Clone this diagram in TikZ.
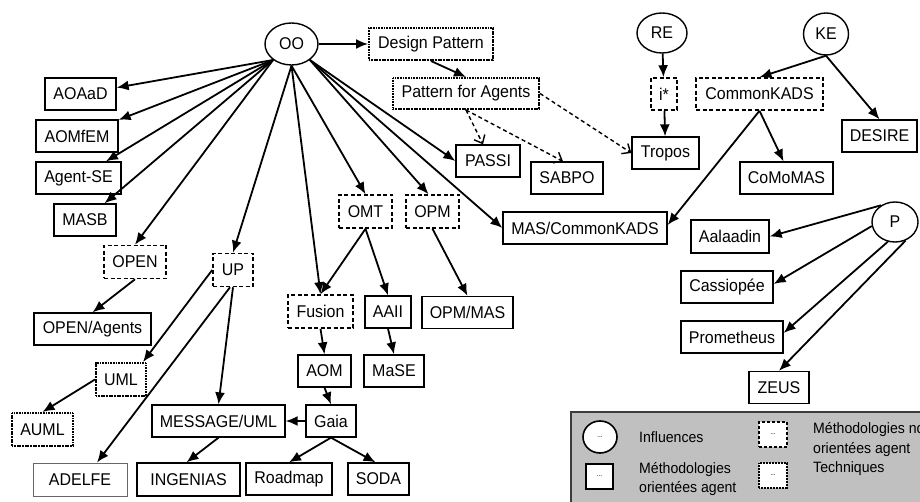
\documentclass[tikz,border=0pt]{standalone}
\usepackage{fontspec}
\setmainfont{Liberation Sans}[FakeStretch=0.94]
\usetikzlibrary{shapes.geometric,arrows.meta}
\definecolor{legendgray}{RGB}{192,192,192}
\definecolor{legendedge}{RGB}{60,60,60}

\tikzset{
  base/.style={font=\fontsize{17}{20}\selectfont, inner sep=0pt, minimum height=32pt, align=center},
  meth/.style={base, draw, rectangle, line width=1.3pt, fill=white},
  nonagent/.style={base, draw, rectangle, line width=1.6pt, dash pattern=on 4pt off 2.5pt, fill=white},
  techbox/.style={base, draw, rectangle, line width=2pt, dash pattern=on 1.1pt off 0.5pt, fill=white},
  infl/.style={base, draw, ellipse, line width=1.4pt, fill=white},
  arr/.style={line width=1.8pt, -{Latex[length=12pt,width=10pt]}},
  darr/.style={line width=1.4pt, dash pattern=on 4pt off 3pt, -{Straight Barb[length=7pt,width=12pt,line width=1.4pt]}},
  legtext/.style={font=\fontsize{15}{19.5}\selectfont, inner sep=0pt, anchor=west, align=left},
  legsym/.style={font=\fontsize{7}{8}\selectfont, inner sep=0pt, fill=white, draw},
}

\begin{document}
\begin{tikzpicture}[x=1pt, y=-1pt]
\fill[white] (0,0) rectangle (920,502);
\useasboundingbox (0,0) rectangle (920,502);

% influences
\node[infl, minimum width=53pt, minimum height=42pt] (oo) at (291.5,44) {OO};
\node[infl, minimum width=50pt, minimum height=40pt] (re) at (662,33) {RE};
\node[infl, minimum width=45pt, minimum height=42pt] (ke) at (826,34) {KE};
\node[infl, minimum width=46pt, minimum height=40pt] (p) at (895,222) {P};

% techniques
\node[techbox, minimum width=124pt] (dp) at (431,44) {Design Pattern};
\node[techbox, minimum width=146pt, minimum height=31pt] (pfa) at (466,93.5) {Pattern for Agents};
\node[techbox, minimum width=50pt, minimum height=33pt] (uml) at (121,379.5) {UML};
\node[techbox, minimum width=61pt, minimum height=33pt] (auml) at (42.5,429.5) {AUML};

% non agent-oriented methodologies
\node[nonagent, minimum width=62pt, minimum height=33pt] (open) at (135,262) {OPEN};
\node[nonagent, minimum width=40pt, minimum height=33pt] (up) at (233,270) {UP};
\node[nonagent, minimum width=65pt, minimum height=33pt] (fusion) at (320.5,311.5) {Fusion};
\node[nonagent, minimum width=53pt, minimum height=33pt] (omt) at (365.5,211.5) {OMT};
\node[nonagent, minimum width=53pt, minimum height=33pt] (opm) at (432.5,211.5) {OPM};
\node[nonagent, minimum width=26pt] (istar) at (664,94) {i*};
\node[nonagent, minimum width=127pt] (ckads) at (759.5,94) {CommonKADS};

% agent-oriented methodologies
\node[meth, minimum width=71pt] (aoaad) at (80.5,94) {AOAaD};
\node[meth, minimum width=82pt] (aomfem) at (77,136) {AOMfEM};
\node[meth, minimum width=85pt] (agentse) at (78.5,178) {Agent-SE};
\node[meth, minimum width=62pt] (masb) at (85,220) {MASB};
\node[meth, minimum width=117pt] (openag) at (92.5,329) {OPEN/Agents};
\node[meth, minimum width=94pt, minimum height=33pt, draw=black!60, line width=0.9pt] (adelfe) at (80,479.5) {ADELFE};
\node[meth, minimum width=103pt, minimum height=33pt] (ingenias) at (188.5,479.5) {INGENIAS};
\node[meth, minimum width=133pt] (message) at (218.5,421) {MESSAGE/UML};
\node[meth, minimum width=86pt] (roadmap) at (289,479) {Roadmap};
\node[meth, minimum width=61pt] (soda) at (378.5,479) {SODA};
\node[meth, minimum width=50pt] (gaia) at (331,421) {Gaia};
\node[meth, minimum width=53pt] (aom) at (324.5,371) {AOM};
\node[meth, minimum width=60pt] (mase) at (394,371) {MaSE};
\node[meth, minimum width=46pt] (aaii) at (388,312) {AAII};
\node[meth, minimum width=91pt] (opmmas) at (467.5,312.5) {OPM/MAS};
\node[meth, minimum width=64pt] (passi) at (488,161) {PASSI};
\node[meth, minimum width=72pt] (sabpo) at (567,178) {SABPO};
\node[meth, minimum width=164pt] (mas) at (585,228) {MAS/CommonKADS};
\node[meth, minimum width=67pt] (tropos) at (665.5,153) {Tropos};
\node[meth, minimum width=75pt] (desire) at (879.5,136) {DESIRE};
\node[meth, minimum width=93pt] (comomas) at (786.5,178) {CoMoMAS};
\node[meth, minimum width=78pt, minimum height=33pt] (aalaadin) at (730,236.5) {Aalaadin};
\node[meth, minimum width=92pt] (cassiopee) at (727,287) {Cassiopée};
\node[meth, minimum width=102pt] (prometheus) at (732,337) {Prometheus};
\node[meth, minimum width=60pt] (zeus) at (779,387.5) {ZEUS};

% links from OO
\draw[arr] (oo) -- (dp);
\draw[arr] (oo.221) -- (aoaad);
\draw[arr] (oo.221) -- (aomfem);
\draw[arr] (oo.221) -- (agentse);
\draw[arr] (oo.221) -- (masb);
\draw[arr] (oo.221) -- (open.north);
\draw[arr] (oo.south) -- (up.north);
\draw[arr] (oo.south) -- (fusion.north);
\draw[arr] (oo.south) -- (omt.north);
\draw[arr] (oo.-41) -- ([xshift=-4pt]opm.north);
\draw[arr] (oo.-41) -- (passi.west);
\draw[arr] (oo.-41) -- (mas.west);

% patterns
\draw[arr] (dp.south) -- (pfa.north);
\draw[darr] (pfa.south) -- ([xshift=-5pt]passi.north);
\draw[darr] (pfa.south) -- ([xshift=-4pt]sabpo.north);
\draw[darr] (pfa.east) -- (tropos.west);

% requirements and knowledge engineering
\draw[arr] (re) -- (istar);
\draw[arr] (istar) -- (tropos);
\draw[arr] (ke.south) -- (ckads.north);
\draw[arr] (ke.south) -- (desire.north);
\draw[arr] (ckads.south) -- ([xshift=-3pt]comomas.north);
\draw[arr] (ckads.south) -- ([yshift=3pt]mas.east);

% P
\draw[arr] (p.130) -- (aalaadin.east);
\draw[arr] (p.190) -- ([yshift=3pt]cassiopee.east);
\draw[arr] (p.250) -- ([yshift=4pt]prometheus.east);
\draw[arr] (p.300) -- (zeus.north);

% OPEN, UP and UML
\draw[arr] (open.south) -- (openag.north);
\draw[arr] (up.west) -- ([xshift=-4pt]uml.north east);
\draw[arr] ([xshift=-3pt]up.south) -- ([xshift=17pt]adelfe.north);
\draw[arr] (up.south) -- (message.north);
\draw[arr] (uml.west) -- (auml.north);
\draw[arr] (message.south) -- ([xshift=-2pt]ingenias.north);

% OMT, OPM, Fusion, Gaia
\draw[arr] (omt.south) -- (fusion.north);
\draw[arr] (omt.south) -- (aaii.north);
\draw[arr] (opm.south) -- (opmmas.north);
\draw[arr] (fusion.south) -- (aom.north);
\draw[arr] (aaii.south) -- (mase.north);
\draw[arr] (aom.south) -- (gaia.north);
\draw[arr] (gaia.west) -- (message.east);
\draw[arr] (gaia.south) -- (roadmap.north);
\draw[arr] (gaia.south) -- ([xshift=-3pt]soda.north);

% legend
\draw[fill=legendgray, draw=legendedge, line width=1.5pt] (571,412) rectangle (924,506);
\node[legsym, ellipse, line width=1.6pt, minimum width=34pt, minimum height=32pt] (lgi) at (600,437) {...};
\node[legsym, rectangle, line width=1.2pt, minimum width=27pt, minimum height=25pt] (lgm) at (599.5,476.5) {...};
\node[legsym, rectangle, line width=1.6pt, dash pattern=on 3pt off 2pt, minimum width=28pt, minimum height=25pt] (lgn) at (773,434.5) {...};
\node[legsym, rectangle, line width=1.8pt, dash pattern=on 1pt off 0.5pt, minimum width=28pt, minimum height=25pt] (lgt) at (773,475.5) {...};
\node[legtext] (lgit) at (639,437) {Influences};
\node[legtext] (lgmt) at (639,479) {Méthodologies\\orientées agent};
\node[legtext] (lgnt) at (813,439.5) {Méthodologies non\\orientées agent};
\node[legtext] (lgtt) at (813,469) {Techniques};
\end{tikzpicture}
\end{document}
